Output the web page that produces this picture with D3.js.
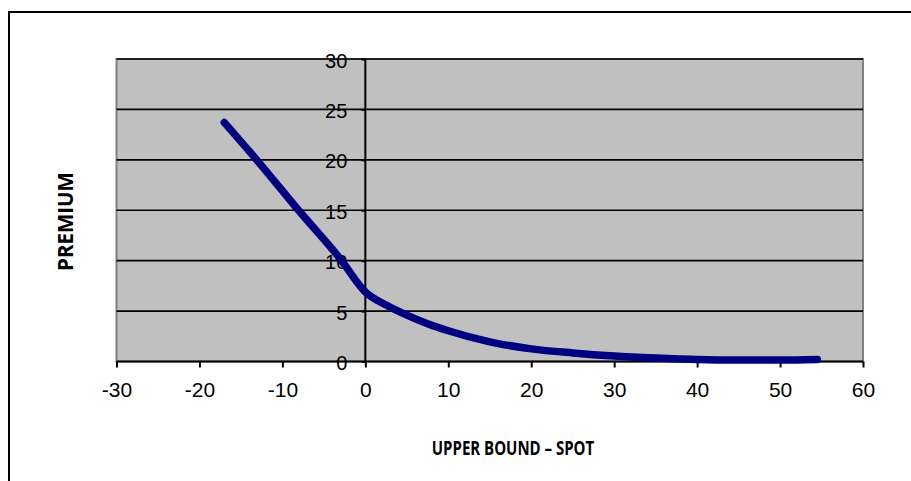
<!DOCTYPE html>
<html><head><meta charset="utf-8">
<script src="https://cdn.jsdelivr.net/npm/d3@7"></script>
<style>body{margin:0;background:#fff}svg{display:block}</style>
</head><body>
<svg id="c" width="911" height="481"></svg>
<script>
const xValues = [-17, -13, -8, -3, 0, 2.5, 5, 7.5, 10, 15, 20, 25, 30, 35, 40, 45, 50, 54.5];
const premium = [23.7, 19.9, 14.95, 10.15, 6.9, 5.6, 4.6, 3.75, 3.05, 1.95, 1.25, 0.85, 0.55, 0.35, 0.2, 0.15, 0.15, 0.2];
const xTicks = [-30, -20, -10, 0, 10, 20, 30, 40, 50, 60];
const yTicks = [0, 5, 10, 15, 20, 25, 30];
const xTitle = "UPPER BOUND \u2013 SPOT";
const yTitle = "PREMIUM";

const svg = d3.select("#c");
const L = 116.5, R = 863, T = 59, B = 361.5;
const x = d3.scaleLinear().domain([-30, 60]).range([L, R]);
const y = d3.scaleLinear().domain([0, 30]).range([B, T]);

// outer frame
svg.append("rect").attr("x", 9).attr("y", 12).attr("width", 1000).attr("height", 600)
  .attr("fill", "none").attr("stroke", "#000").attr("stroke-width", 2);

// plot area
svg.append("rect").attr("x", L).attr("y", T).attr("width", R - L).attr("height", B - T)
  .attr("fill", "#c0c0c0").attr("stroke", "#808080").attr("stroke-width", 2);

// gridlines
svg.append("g").selectAll("line").data(yTicks.filter(d => d > 0)).join("line")
  .attr("x1", L).attr("x2", R).attr("y1", d => y(d)).attr("y2", d => y(d))
  .attr("stroke", "#000").attr("stroke-width", 1.6);

// x axis
const xAxis = svg.append("g").attr("transform", `translate(0,${B})`)
  .call(d3.axisBottom(x).tickValues(xTicks).tickSize(6).tickPadding(14.5).tickFormat(d => String(d)));
xAxis.select(".domain").attr("stroke", "#000").attr("stroke-width", 2).attr("d", `M${L},0H${R}`);
xAxis.selectAll(".tick line").attr("stroke", "#000").attr("stroke-width", 2);
xAxis.selectAll(".tick text").attr("font-family", "Liberation Sans, Arial, sans-serif")
  .attr("font-size", 21).attr("fill", "#000");

// y axis at x = 0
const yAxis = svg.append("g").attr("transform", `translate(${x(0)},0)`)
  .call(d3.axisLeft(y).tickValues(yTicks).tickSize(4).tickPadding(14).tickFormat(d => String(d)));
yAxis.select(".domain").attr("stroke", "#000").attr("stroke-width", 2).attr("d", `M0,${T}V${B}`);
yAxis.selectAll(".tick line").attr("stroke", "#000").attr("stroke-width", 2);
yAxis.selectAll(".tick text").attr("font-family", "Liberation Sans, Arial, sans-serif")
  .attr("font-size", 20).attr("fill", "#000").attr("dy", "0.4em");

// curve
const pts = xValues.map((v, i) => [v, premium[i]]);
svg.append("path").datum(pts)
  .attr("d", d3.line().x(d => x(d[0])).y(d => y(d[1])).curve(d3.curveMonotoneX))
  .attr("fill", "none").attr("stroke", "#000080").attr("stroke-width", 7.5)
  .attr("stroke-linecap", "round").attr("stroke-linejoin", "round");

// titles
svg.append("text").attr("transform", "translate(513,455) scale(1,1.3)").attr("text-anchor", "middle")
  .attr("font-family", "Open Sans, sans-serif").attr("font-weight", "bold").attr("font-size", 15)
  .attr("fill", "#000").text(xTitle);
svg.append("text").attr("transform", "translate(72.5,221.5) rotate(-90)").attr("text-anchor", "middle")
  .attr("font-family", "Open Sans, sans-serif").attr("font-weight", "bold").attr("font-size", 20.5)
  .attr("fill", "#000").text(yTitle);
</script>
</body></html>
